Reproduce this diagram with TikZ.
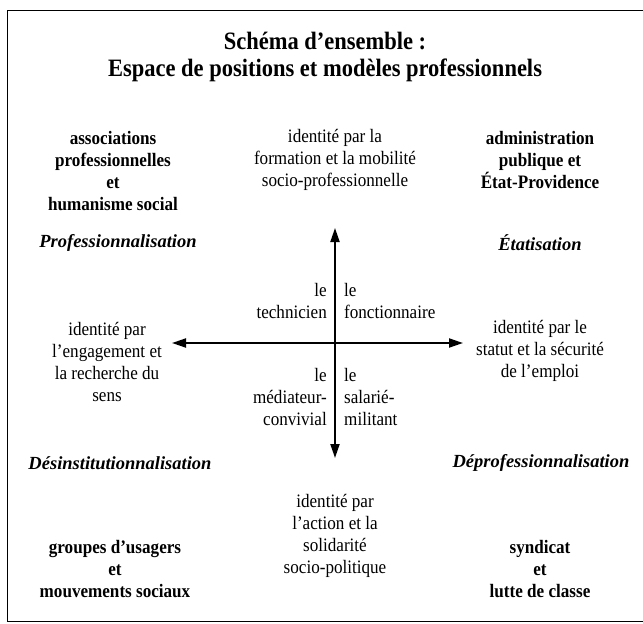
\documentclass[tikz,border=0pt]{standalone}
\usepackage{fontspec}
\setmainfont[FakeStretch=0.9]{Liberation Serif}
\newfontfamily\trendfont{Liberation Serif}
\usetikzlibrary{arrows.meta}
\tikzset{
  body/.style={align=center, inner sep=0pt, font=\fontsize{19}{22}\selectfont},
  boldbody/.style={body, font=\fontsize{19}{22}\selectfont\bfseries},
  trend/.style={inner sep=0pt, font=\trendfont\fontsize{18.5}{22}\selectfont\bfseries\itshape},
  titletext/.style={align=center, inner sep=0pt, font=\fontsize{25}{27}\selectfont\bfseries},
  axis/.style={line width=2pt, {Triangle[length=14pt,width=9pt]}-{Triangle[length=14pt,width=9pt]}},
}
\begin{document}
\begin{tikzpicture}[x=1pt,y=-1pt]
\useasboundingbox (0,0) rectangle (643,624);
\draw[line width=1.5pt] (7.5,10.5) rectangle (660,621.5);
\node[titletext] (title) at (325,57) {Schéma d'ensemble :\\Espace de positions et modèles professionnels};
% top row
\node[boldbody] (assoc) at (113,171) {associations\\professionnelles\\et\\humanisme social};
\node[body] (formation) at (335,160) {identité par la\\formation et la mobilité\\socio-professionnelle};
\node[boldbody] (admin) at (540,160) {administration\\publique et\\État-Providence};
\node[trend] (prof) at (118,243) {Professionnalisation};
\node[trend] (etat) at (540,243) {Étatisation};
% axes
\coordinate (up) at (335,228);
\coordinate (down) at (335,458);
\coordinate (left) at (172,343);
\coordinate (right) at (463,343);
\draw[axis] (up) -- (down);
\draw[axis] (left) -- (right);
% quadrants
\node[body, align=right, anchor=east] (tech) at (327,301) {le\\technicien};
\node[body, align=left, anchor=west] (fonct) at (344,301) {le\\fonctionnaire};
\node[body, align=right, anchor=east] (med) at (327,397) {le\\médiateur-\\convivial};
\node[body, align=left, anchor=west] (sal) at (344,397) {le\\salarié-\\militant};
% middle row
\node[body] (engag) at (107,362) {identité par\\l'engagement et\\la recherche du\\sens};
\node[body] (statut) at (540,351) {identité par le\\statut et la sécurité\\de l'emploi};
% lower trends
\node[trend] (desinst) at (120,463) {Désinstitutionnalisation};
\node[trend] (deprof) at (541,463) {Déprofessionnalisation};
% bottom row
\node[body] (action) at (335,536) {identité par\\l'action et la\\solidarité\\socio-politique};
\node[boldbody] (groupes) at (115,569) {groupes d'usagers\\et\\mouvements sociaux};
\node[boldbody] (syndicat) at (540,569) {syndicat\\et\\lutte de classe};
\end{tikzpicture}
\end{document}
